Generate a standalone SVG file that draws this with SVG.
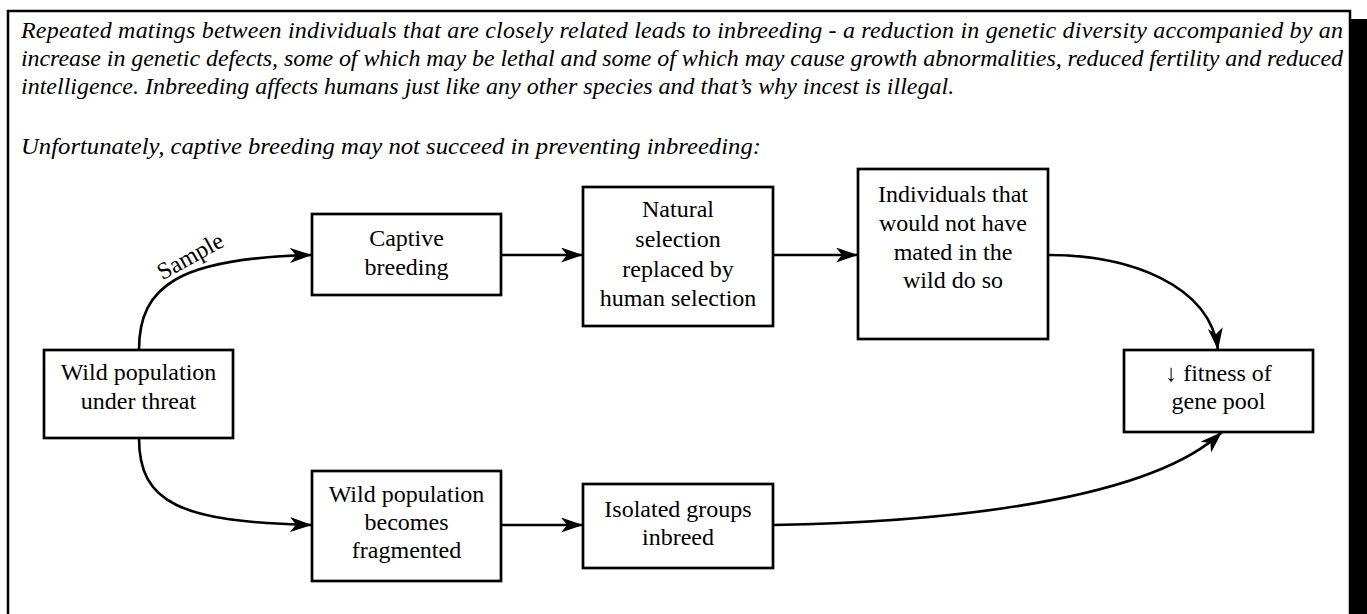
<svg xmlns="http://www.w3.org/2000/svg" width="1367" height="614" viewBox="0 0 1367 614">
<style>
.para{font-family:"Liberation Serif","Times New Roman",serif;font-style:italic;font-size:24px;fill:#000}
.node rect{fill:#fff;stroke:#000;stroke-width:2.7}
.node text,.lbl{font-family:"Liberation Serif","Times New Roman",serif;font-size:24px;fill:#000;text-anchor:middle}
.conn path{fill:none;stroke:#000;stroke-width:2.6;marker-end:url(#ah)}
</style>
<defs>
<marker id="ah" markerUnits="userSpaceOnUse" markerWidth="24" markerHeight="16" refX="22" refY="7.5" orient="auto">
<path d="M0,0 L22,7.5 L0,15 L6,7.5 Z" fill="#000"/>
</marker>
</defs>
<rect x="0" y="0" width="1367" height="614" fill="#fff"/>
<rect x="1351" y="19" width="16" height="600" fill="#000"/>
<rect x="8" y="11" width="1342" height="640" fill="#fff" stroke="#000" stroke-width="2.5"/>
<g id="intro">
<text class="para" x="21" y="38" textLength="1322" lengthAdjust="spacing">Repeated matings between individuals that are closely related leads to inbreeding - a reduction in genetic diversity accompanied by an</text>
<text class="para" x="21" y="66" textLength="1322" lengthAdjust="spacing">increase in genetic defects, some of which may be lethal and some of which may cause growth abnormalities, reduced fertility and reduced</text>
<text class="para" x="21" y="94">intelligence. Inbreeding affects humans just like any other species and that’s why incest is illegal.</text>
<text class="para" x="21" y="154" textLength="740" lengthAdjust="spacingAndGlyphs">Unfortunately, captive breeding may not succeed in preventing inbreeding:</text>
</g>
<g class="conn" id="connectors">
<path d="M139,350 C139,285 180,258 312,255"/>
<path d="M501,255 L583,255"/>
<path d="M773,255 L858,255"/>
<path d="M1048,255 C1130,255 1210,285 1218,350"/>
<path d="M139,438 C139,503 180,522 312,525"/>
<path d="M501,525 L583,525"/>
<path d="M773,525 C950,522 1150,500 1222,432"/>
<text class="lbl" transform="translate(194,263) rotate(-29)">Sample</text>
</g>
<g class="node" id="wild">
<rect x="44" y="350" width="189" height="88"/>
<text x="138.5" y="380">Wild population</text>
<text x="138.5" y="409">under threat</text>
</g>
<g class="node" id="captive">
<rect x="312" y="214" width="189" height="81"/>
<text x="406.5" y="246">Captive</text>
<text x="406.5" y="275">breeding</text>
</g>
<g class="node" id="natural">
<rect x="583" y="187" width="190" height="139"/>
<text x="678" y="217">Natural</text>
<text x="678" y="247">selection</text>
<text x="678" y="277">replaced by</text>
<text x="678" y="306">human selection</text>
</g>
<g class="node" id="individuals">
<rect x="858" y="169" width="190" height="170"/>
<text x="953" y="202">Individuals that</text>
<text x="953" y="231">would not have</text>
<text x="953" y="260">mated in the</text>
<text x="953" y="288">wild do so</text>
</g>
<g class="node" id="fitness">
<rect x="1124" y="350" width="189" height="82"/>
<text x="1218.5" y="381">↓ fitness of</text>
<text x="1218.5" y="409">gene pool</text>
</g>
<g class="node" id="fragmented">
<rect x="312" y="471" width="189" height="110"/>
<text x="406.5" y="502">Wild population</text>
<text x="406.5" y="530">becomes</text>
<text x="406.5" y="558">fragmented</text>
</g>
<g class="node" id="isolated">
<rect x="583" y="484" width="190" height="84"/>
<text x="678" y="517">Isolated groups</text>
<text x="678" y="545">inbreed</text>
</g>
</svg>
